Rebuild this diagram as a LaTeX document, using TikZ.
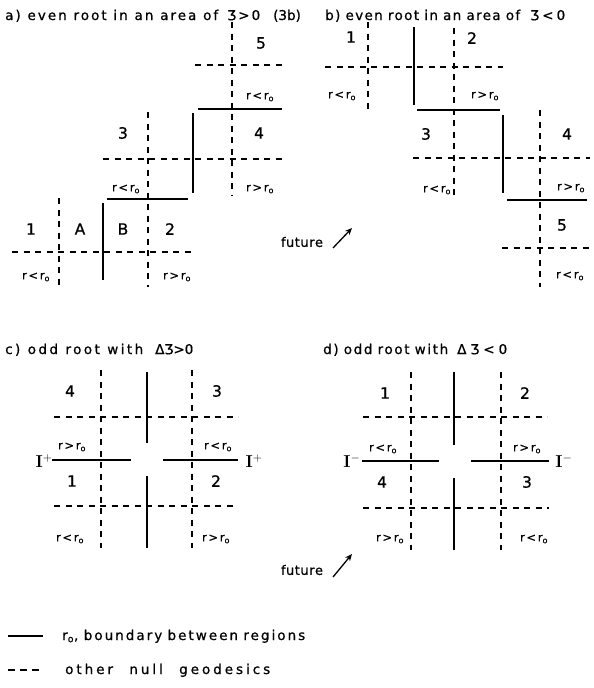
\documentclass[tikz,border=0pt]{standalone}
\usepackage[no-math]{fontspec}
\setmainfont{DejaVu Sans}[FakeBold=0.7]
\usetikzlibrary{arrows.meta}

% lettering spread to a given width
\newcommand{\spread}[3]{\makebox[#1pt][s]{\addfontfeatures{LetterSpace=#2}#3}}
\newcommand{\rlt}{\makebox[28pt][s]{r\hfill<\hfill r\textsubscript{o}}}
\newcommand{\rgt}{\makebox[28pt][s]{r\hfill>\hfill r\textsubscript{o}}}
\newcommand{\scri}[1]{$\mathbf{I}^{\boldsymbol{#1}}$}
\providecommand{\boldsymbol}[1]{\mathbf{#1}}

\tikzset{
  geod/.style={line width=1.3pt, dash pattern=on 6pt off 5.5pt},
  bound/.style={line width=1.8pt},
  ttl/.style={anchor=base west, inner sep=0pt, font=\fontsize{13.5}{15}\selectfont},
  reg/.style={inner sep=0pt, font=\fontsize{15.5}{17}\selectfont},
  rlab/.style={inner sep=0pt, font=\fontsize{11.5}{13}\selectfont},
  scr/.style={inner sep=0pt, font=\fontsize{17}{19}\selectfont},
  fut/.style={inner sep=0pt, font=\fontsize{13}{15}\selectfont},
  futarrow/.style={line width=1.3pt, -{Stealth[length=7pt,width=6pt]}},
}

\begin{document}
\begin{tikzpicture}[x=1pt,y=-1pt]
\fill[white] (0,0) rectangle (594,688);
\useasboundingbox (0,0) rectangle (594,688);

% ---------- a) even root, zeta > 0 ----------
\node[ttl] (ta)  at (5,20)   {\spread{213}{15}{a) even root in an area of}};
\node[ttl] (tav) at (227,20) {\makebox[33pt][s]{Ʒ\hfill>\hfill0}};
\node[ttl] (tab) at (273,20) {\makebox[27pt][s]{(\hfill3\hfill b\hfill)}};

\draw[geod] (232,22) -- (232,195);
\draw[geod] (195,65) -- (283,65);
\draw[geod] (148,112) -- (148,287);
\draw[geod] (103,159) -- (283,159);
\draw[geod] (59,198) -- (59,287);
\draw[geod] (12,252) -- (193,252);
\draw[bound] (198,109) -- (282,109);
\draw[bound] (193,113) -- (193,193);
\draw[bound] (107,199) -- (188,199);
\draw[bound] (103,203) -- (103,280);

\node[reg]  (a5)  at (261,43)  {5};
\node[rlab] (a5r) at (260,97)  {\rlt};
\node[reg]  (a3)  at (123,133) {3};
\node[reg]  (a4)  at (259,133) {4};
\node[rlab] (a3r) at (126,189) {\rlt};
\node[rlab] (a4r) at (260,189) {\rgt};
\node[reg]  (a1)  at (31,229)  {1};
\node[reg]  (aA)  at (80,229)  {A};
\node[reg]  (aB)  at (123,229) {B};
\node[reg]  (a2)  at (170,229) {2};
\node[rlab] (a1r) at (36,277)  {\rlt};
\node[rlab] (a2r) at (177,277) {\rgt};

% ---------- b) even root, zeta < 0 ----------
\node[ttl] (tb)  at (325,20) {\spread{195}{10}{b) even root in an area of}};
\node[ttl] (tbv) at (530,20) {\makebox[35pt][s]{Ʒ\hfill<\hfill0}};

\draw[geod] (368,22) -- (368,110);
\draw[geod] (325,67) -- (503,67);
\draw[geod] (454,28) -- (454,198);
\draw[geod] (540,110) -- (540,287);
\draw[geod] (413,158) -- (590,158);
\draw[geod] (502,248) -- (594,248);
\draw[bound] (414,27) -- (414,105);
\draw[bound] (417,110) -- (500,110);
\draw[bound] (503,115) -- (503,193);
\draw[bound] (507,200) -- (587,200);

\node[reg]  (b1)  at (351,37)  {1};
\node[reg]  (b2)  at (472,38)  {2};
\node[rlab] (b1r) at (342,96)  {\rlt};
\node[rlab] (b2r) at (485,96)  {\rgt};
\node[reg]  (b3)  at (426,134) {3};
\node[reg]  (b4)  at (567,134) {4};
\node[rlab] (b3r) at (437,190) {\rlt};
\node[rlab] (b4r) at (571,188) {\rgt};
\node[reg]  (b5)  at (562,225) {5};
\node[rlab] (b5r) at (570,276) {\rlt};

\node[fut] (fa) at (302,242) {\makebox[42pt][s]{f\hfill u\hfill t\hfill u\hfill r\hfill e}};
\coordinate (fa0) at (333,248);
\coordinate (fa1) at (352,228);
\draw[futarrow] (fa0) -- (fa1);

% ---------- c) odd root, Delta zeta > 0 ----------
\node[ttl] (tc)  at (5,354)   {\spread{138}{18}{c) odd root with}};
\node[ttl] (tcv) at (155,354) {\makebox[38pt][s]{Δ\hfill Ʒ\hfill>\hfill0}};

\draw[geod] (101,370) -- (101,548);
\draw[geod] (192,370) -- (192,548);
\draw[geod] (54,417) -- (238,417);
\draw[geod] (54,506) -- (237,506);
\draw[bound] (147,372) -- (147,443);
\draw[bound] (147,476) -- (147,548);
\draw[bound] (52,460) -- (131,460);
\draw[bound] (163,460) -- (238,460);

\node[reg]  (c4)  at (70,391)  {4};
\node[reg]  (c3)  at (217,391) {3};
\node[rlab] (c4r) at (72,447)  {\rgt};
\node[rlab] (c3r) at (218,447) {\rlt};
\node[scr]  (cIl) at (44,461)  {\scri{+}};
\node[scr]  (cIr) at (254,461) {\scri{+}};
\node[reg]  (c1)  at (72,481)  {1};
\node[reg]  (c2)  at (216,481) {2};
\node[rlab] (c1r) at (70,539)  {\rlt};
\node[rlab] (c2r) at (216,539) {\rgt};

% ---------- d) odd root, Delta zeta < 0 ----------
\node[ttl] (td)  at (323,354) {\spread{125}{12}{d) odd root with}};
\node[ttl] (tdv) at (457,354) {\makebox[50pt][s]{Δ\hfill Ʒ\hfill<\hfill0}};

\draw[geod] (411,372) -- (411,550);
\draw[geod] (501,372) -- (501,550);
\draw[geod] (363,417) -- (547,417);
\draw[geod] (363,508) -- (549,508);
\draw[bound] (454,372) -- (454,445);
\draw[bound] (454,478) -- (454,550);
\draw[bound] (362,461) -- (439,461);
\draw[bound] (471,461) -- (549,461);

\node[reg]  (d1)  at (385,393) {1};
\node[reg]  (d2)  at (525,393) {2};
\node[rlab] (d1r) at (383,449) {\rlt};
\node[rlab] (d2r) at (527,449) {\rgt};
\node[scr]  (dIl) at (352,461) {\scri{-}};
\node[scr]  (dIr) at (564,461) {\scri{-}};
\node[reg]  (d4)  at (382,482) {4};
\node[reg]  (d3)  at (527,482) {3};
\node[rlab] (d4r) at (390,539) {\rgt};
\node[rlab] (d3r) at (534,539) {\rlt};

\node[fut] (fd) at (302,570) {\makebox[42pt][s]{f\hfill u\hfill t\hfill u\hfill r\hfill e}};
\coordinate (fd0) at (333,577);
\coordinate (fd1) at (352,554);
\draw[futarrow] (fd0) -- (fd1);

% ---------- legend ----------
\coordinate (ls0) at (8,636);
\coordinate (ls1) at (43,636);
\draw[bound, line width=1.4pt] (ls0) -- (ls1);
\node[ttl] (lst) at (62,640) {\spread{243}{15}{r\textsubscript{o}, boundary between regions}};
\coordinate (ld0) at (8,670);
\coordinate (ld1) at (43,670);
\draw[geod, dash pattern=on 7pt off 5pt] (ld0) -- (ld1);
\node[ttl] (ldt) at (65,674) {\spread{205}{22}{other null geodesics}};
\end{tikzpicture}
\end{document}
